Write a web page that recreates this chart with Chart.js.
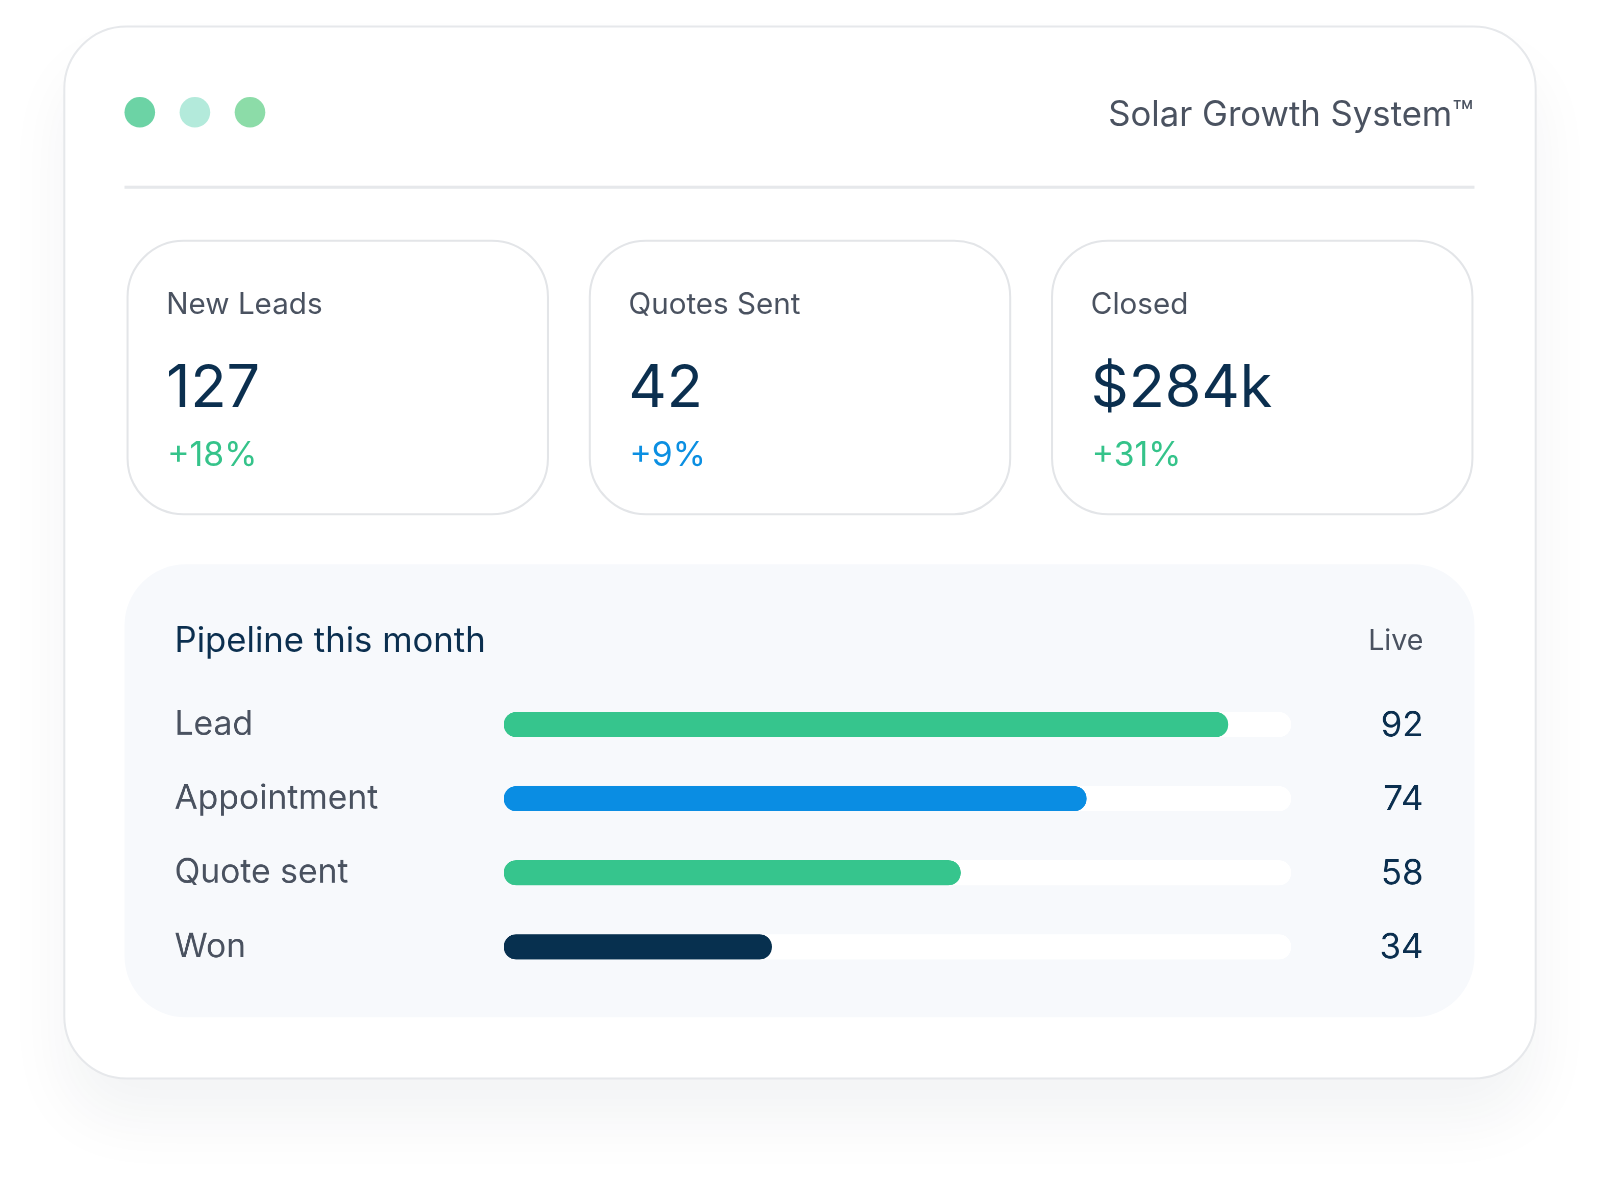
<!DOCTYPE html>
<html>
<head>
<meta charset="utf-8">
<script src="https://cdn.jsdelivr.net/npm/chart.js@4"></script>
<style>
  html, body { margin: 0; padding: 0; background: #fff; }
  body { width: 1600px; height: 1181px; position: relative; font-family: Inter, "Noto Sans", sans-serif; overflow: hidden; }
  #stage { position: absolute; left: 0; top: 0; width: 1568px; height: 1157px; transform: scale(1.0204); transform-origin: 0 0; }
  .card { position: absolute; left: 62px; top: 25px; width: 1444px; height: 1033px; box-sizing: border-box;
    border: 2px solid #e6e8eb; border-radius: 62px; background: #fff;
    box-shadow: 0 40px 60px rgba(20, 30, 50, 0.05); }
  .dot { position: absolute; top: 95px; width: 30px; height: 30px; border-radius: 50%; }
  .title { position: absolute; right: 124px; top: 90px; font-size: 34px; color: #4a5260; }
  .divider { position: absolute; left: 122px; top: 182px; width: 1323px; height: 3px; background: #e6e8eb; }
  .kpi { position: absolute; top: 235px; width: 414px; height: 270px; box-sizing: border-box;
    border: 2px solid #e3e5e8; border-radius: 56px; }
  .kpi .lbl { position: absolute; left: 37px; top: 43px; font-size: 29px; color: #4a5260; }
  .kpi .val { position: absolute; left: 37px; top: 106px; font-size: 58px; color: #0b2f4f; }
  .kpi .chg { position: absolute; left: 38px; top: 188px; font-size: 33px; }
  .panel { position: absolute; left: 122px; top: 553px; width: 1323px; height: 444px; background: #f7f9fc; border-radius: 60px; }
  .ptitle { position: absolute; left: 171px; top: 606px; font-size: 34px; color: #0b2f4f; }
  .live { position: absolute; right: 173px; top: 610px; font-size: 28px; color: #4a5260; }
  #wrap { position: absolute; left: 150px; top: 651px; width: 1270px; height: 336px; }
</style>
</head>
<body>
<div id="stage">
<div class="card"></div>
<div class="dot" style="left:122px;background:#6cd3a5"></div>
<div class="dot" style="left:176px;background:#b3eadb"></div>
<div class="dot" style="left:230px;background:#8cdca8"></div>
<div class="title">Solar Growth System™</div>
<div class="divider"></div>

<div class="kpi" style="left:124px"><div class="lbl">New Leads</div><div class="val">127</div><div class="chg" style="color:#35c38a">+18%</div></div>
<div class="kpi" style="left:577px"><div class="lbl">Quotes Sent</div><div class="val">42</div><div class="chg" style="color:#0b8fe2">+9%</div></div>
<div class="kpi" style="left:1030px"><div class="lbl">Closed</div><div class="val">$284k</div><div class="chg" style="color:#35c38a">+31%</div></div>

<div class="panel"></div>
<div class="ptitle">Pipeline this month</div>
<div class="live">Live</div>
<div id="wrap"><canvas id="chart"></canvas></div>
</div>

<script>
const stages = ['Lead', 'Appointment', 'Quote sent', 'Won'];
const counts = [92, 74, 58, 34];
const trackMax = [100, 100, 100, 100];
const barColors = ['#36c58d', '#0a8de3', '#36c58d', '#07304f'];

// value labels at the right end of each row
const valueLabels = {
  id: 'valueLabels',
  afterDraw(chart) {
    const ctx = chart.ctx;
    const meta = chart.getDatasetMeta(1);
    ctx.save();
    ctx.font = '34px Inter, "Noto Sans", sans-serif';
    ctx.fillStyle = '#0b2f4f';
    ctx.textAlign = 'right';
    ctx.textBaseline = 'middle';
    meta.data.forEach((bar, i) => {
      ctx.fillText(String(counts[i]), chart.chartArea.right + 130, bar.y + 1);
    });
    ctx.restore();
  }
};

new Chart(document.getElementById('chart'), {
  type: 'bar',
  data: {
    labels: stages,
    datasets: [
      { data: trackMax, backgroundColor: '#ffffff', grouped: false, order: 2,
        barThickness: 24, borderRadius: 12, borderSkipped: false },
      { data: counts, backgroundColor: barColors, grouped: false, order: 1,
        barThickness: 24, borderRadius: 12, borderSkipped: false }
    ]
  },
  options: {
    indexAxis: 'y',
    responsive: true,
    maintainAspectRatio: false,
    animation: false,
    devicePixelRatio: 2,
    layout: { padding: { left: 21, right: 155, top: 0, bottom: 0 } },
    plugins: { legend: { display: false }, tooltip: { enabled: false } },
    scales: {
      x: { min: 0, max: 100, display: false },
      y: {
        grid: { display: false },
        border: { display: false },
        afterFit(axis) { axis.width = 323; },
        ticks: {
          crossAlign: 'far',
          color: '#4a5260',
          font: { family: 'Inter, "Noto Sans", sans-serif', size: 33 }
        }
      }
    }
  },
  plugins: [valueLabels]
});
</script>
</body>
</html>
